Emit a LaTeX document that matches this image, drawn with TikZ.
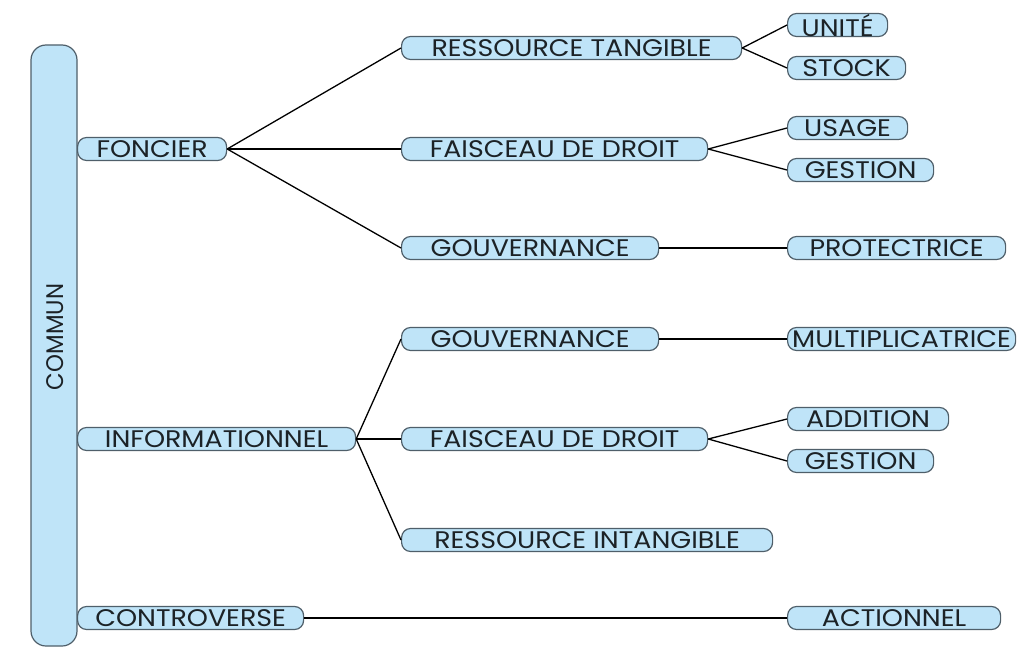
\documentclass[tikz,border=0pt]{standalone}
\usepackage{fontspec}
\setmainfont{Poppins}[FakeStretch=1.12]
\newfontfamily\barfont{Poppins}[FakeStretch=0.95]
\definecolor{boxfill}{HTML}{BFE4F8}
\definecolor{boxline}{HTML}{4F5F6A}
\definecolor{txt}{HTML}{1C2226}
\begin{document}
\begin{tikzpicture}[x=1pt,y=-1pt,
  box/.style={draw=boxline, fill=boxfill, line width=1.2pt, rounded corners=9pt,
    minimum height=23pt, inner sep=0pt, anchor=west, text=txt,
    font=\fontsize{24}{24}\selectfont},
  link/.style={line width=1.3pt, black}]
\useasboundingbox (0,0) rectangle (1019,650);
% main bar
\node[draw=boxline, fill=boxfill, line width=1.2pt, rounded corners=15pt,
  minimum width=46pt, minimum height=601pt, inner sep=0pt] (commun) at (54,345.5) {};
\node[rotate=90, text=txt, font=\barfont\fontsize{24}{24}\selectfont] (communlbl) at (55,337) {COMMUN};
% level 1
\node[box, minimum width=149pt] (foncier) at (77,149) {FONCIER};
\node[box, minimum width=278pt] (info) at (77,439) {INFORMATIONNEL};
\node[box, minimum width=226pt] (contro) at (77,618) {CONTROVERSE};
% level 2
\node[box, minimum width=340pt] (rt) at (401,48) {RESSOURCE TANGIBLE};
\node[box, minimum width=306pt] (fd1) at (401,149) {FAISCEAU DE DROIT};
\node[box, minimum width=257pt] (gv1) at (401,248) {GOUVERNANCE};
\node[box, minimum width=257pt] (gv2) at (401,339) {GOUVERNANCE};
\node[box, minimum width=306pt] (fd2) at (401,439) {FAISCEAU DE DROIT};
\node[box, minimum width=371pt] (ri) at (401,540) {RESSOURCE INTANGIBLE};
% level 3
\node[box, minimum width=100pt] (unite) at (787,25) {UNITÉ};
\node[box, minimum width=118pt] (stock) at (787,68) {STOCK};
\node[box, minimum width=120pt] (usage) at (787,128) {USAGE};
\node[box, minimum width=146pt] (gest1) at (787,170) {GESTION};
\node[box, minimum width=218pt] (protec) at (787,248) {PROTECTRICE};
\node[box, minimum width=228pt] (multi) at (787,339) {MULTIPLICATRICE};
\node[box, minimum width=161pt] (addit) at (787,419) {ADDITION};
\node[box, minimum width=146pt] (gest2) at (787,461) {GESTION};
\node[box, minimum width=213pt] (action) at (787,618) {ACTIONNEL};
% connectors
\draw[link] (foncier.east) -- (rt.west);
\draw[link] (foncier.east) -- (fd1.west);
\draw[link] (foncier.east) -- (gv1.west);
\draw[link] (info.east) -- (gv2.west);
\draw[link] (info.east) -- (fd2.west);
\draw[link] (info.east) -- (ri.west);
\draw[link] (contro.east) -- (action.west);
\draw[link] (rt.east) -- (unite.west);
\draw[link] (rt.east) -- (stock.west);
\draw[link] (fd1.east) -- (usage.west);
\draw[link] (fd1.east) -- (gest1.west);
\draw[link] (gv1.east) -- (protec.west);
\draw[link] (gv2.east) -- (multi.west);
\draw[link] (fd2.east) -- (addit.west);
\draw[link] (fd2.east) -- (gest2.west);
\end{tikzpicture}
\end{document}
